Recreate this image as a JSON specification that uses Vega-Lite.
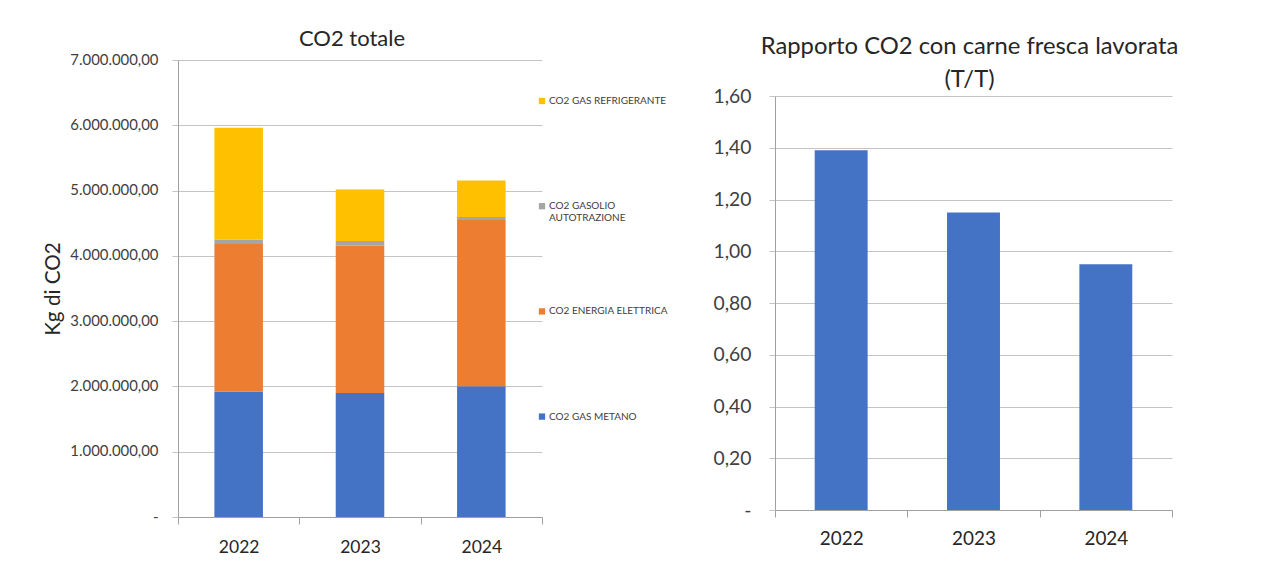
{
  "$schema": "https://vega.github.io/schema/vega-lite/v6.json",
  "padding": {"left": 42, "top": 28, "right": 5, "bottom": 5},
  "background": "white",
  "spacing": 170,
  "config": {
    "locale": {"number": {"decimal": ",", "thousands": ".", "grouping": [3], "currency": ["€", ""]}},
    "font": "Lato",
    "view": {"stroke": null},
    "title": {"font": "Lato", "fontWeight": "normal", "color": "#262626", "fontSize": 22},
    "axis": {"labelFont": "Lato", "titleFont": "Lato", "labelColor": "#404040", "titleColor": "#262626", "gridColor": "#C4C4C4", "domainColor": "#A0A0A0", "tickColor": "#A0A0A0"}
  },
  "hconcat": [
    {
      "width": 364,
      "height": 457,
      "title": {"text": "CO2 totale", "offset": 1, "dx": -8},
      "data": {"values": [
        {"anno": "2022", "voce": "CO2 GAS METANO", "ordine": 1, "valore": 1919000},
        {"anno": "2022", "voce": "CO2 ENERGIA ELETTRICA", "ordine": 2, "valore": 2262000},
        {"anno": "2022", "voce": "CO2 GASOLIO AUTOTRAZIONE", "ordine": 3, "valore": 66000},
        {"anno": "2022", "voce": "CO2 GAS REFRIGERANTE", "ordine": 4, "valore": 1715000},
        {"anno": "2023", "voce": "CO2 GAS METANO", "ordine": 1, "valore": 1899000},
        {"anno": "2023", "voce": "CO2 ENERGIA ELETTRICA", "ordine": 2, "valore": 2256000},
        {"anno": "2023", "voce": "CO2 GASOLIO AUTOTRAZIONE", "ordine": 3, "valore": 72000},
        {"anno": "2023", "voce": "CO2 GAS REFRIGERANTE", "ordine": 4, "valore": 791000},
        {"anno": "2024", "voce": "CO2 GAS METANO", "ordine": 1, "valore": 2002000},
        {"anno": "2024", "voce": "CO2 ENERGIA ELETTRICA", "ordine": 2, "valore": 2546000},
        {"anno": "2024", "voce": "CO2 GASOLIO AUTOTRAZIONE", "ordine": 3, "valore": 46000},
        {"anno": "2024", "voce": "CO2 GAS REFRIGERANTE", "ordine": 4, "valore": 562000}
      ]},
      "mark": {"type": "bar", "width": {"band": 0.4}},
      "encoding": {
        "x": {
          "field": "anno", "type": "nominal",
          "scale": {"paddingInner": 0, "paddingOuter": 0},
          "axis": {"title": null, "labelAngle": 0, "labelFontSize": 17.5, "labelColor": "#262626", "tickBand": "extent", "tickSize": 7, "labelPadding": 14, "grid": false}
        },
        "y": {
          "field": "valore", "type": "quantitative", "stack": "zero",
          "scale": {"domain": [0, 7000000], "nice": false},
          "axis": {
            "title": "Kg di CO2", "titleFontSize": 20.7, "titleFontWeight": "normal", "titlePadding": 7,
            "values": [0, 1000000, 2000000, 3000000, 4000000, 5000000, 6000000, 7000000],
            "format": ",.2f", "labelExpr": "datum.value == 0 ? '-' : datum.label",
            "labelFontSize": 14.9, "labelPadding": 14, "tickSize": 6, "tickColor": "#C4C4C4",
            "minExtent": 108, "maxExtent": 108, "grid": true
          }
        },
        "order": {"field": "ordine", "type": "quantitative"},
        "color": {
          "field": "voce", "type": "nominal",
          "scale": {
            "domain": ["CO2 GAS METANO", "CO2 ENERGIA ELETTRICA", "CO2 GASOLIO AUTOTRAZIONE", "CO2 GAS REFRIGERANTE"],
            "range": ["#4472C4", "#ED7D31", "#A5A5A5", "#FFC000"]
          },
          "legend": {
            "title": null, "orient": "none", "legendX": 359, "legendY": 36, "padding": 0,
            "values": ["CO2 GAS REFRIGERANTE", "CO2 GASOLIO AUTOTRAZIONE", "CO2 ENERGIA ELETTRICA", "CO2 GAS METANO"],
            "symbolType": "square", "symbolSize": 40, "symbolStrokeWidth": 0,
            "labelFont": "Lato", "labelFontSize": 10, "labelColor": "#404040", "labelOffset": 2,
            "labelBaseline": "middle", "gridAlign": "all", "rowPadding": 83.2,
            "labelExpr": "datum.label == 'CO2 GASOLIO AUTOTRAZIONE' ? ['CO2 GASOLIO', 'AUTOTRAZIONE'] : datum.label"
          }
        }
      }
    },
    {
      "width": 397,
      "height": 450,
      "title": {"text": ["Rapporto CO2 con carne fresca lavorata", "(T/T)"], "fontSize": 23.8, "lineHeight": 33, "offset": -32, "dx": -4},
      "data": {"values": [
        {"anno": "2022", "rapporto": 1.39},
        {"anno": "2023", "rapporto": 1.15},
        {"anno": "2024", "rapporto": 0.95}
      ]},
      "mark": {"type": "bar", "width": {"band": 0.4}, "color": "#4472C4"},
      "encoding": {
        "x": {
          "field": "anno", "type": "nominal",
          "scale": {"paddingInner": 0, "paddingOuter": 0},
          "axis": {"title": null, "labelAngle": 0, "labelFontSize": 18.9, "labelColor": "#262626", "tickBand": "extent", "tickSize": 7, "labelPadding": 12, "grid": false}
        },
        "y": {
          "field": "rapporto", "type": "quantitative",
          "scale": {"domain": [0, 1.6], "nice": false, "range": [450, 36]},
          "axis": {
            "title": null,
            "values": [0, 0.2, 0.4, 0.6, 0.8, 1.0, 1.2, 1.4, 1.6],
            "format": ",.2f", "labelExpr": "datum.value == 0 ? '-' : datum.label",
            "labelFontSize": 19.3, "labelPadding": 18, "tickSize": 6, "tickColor": "#C4C4C4", "grid": true
          }
        }
      }
    }
  ]
}
